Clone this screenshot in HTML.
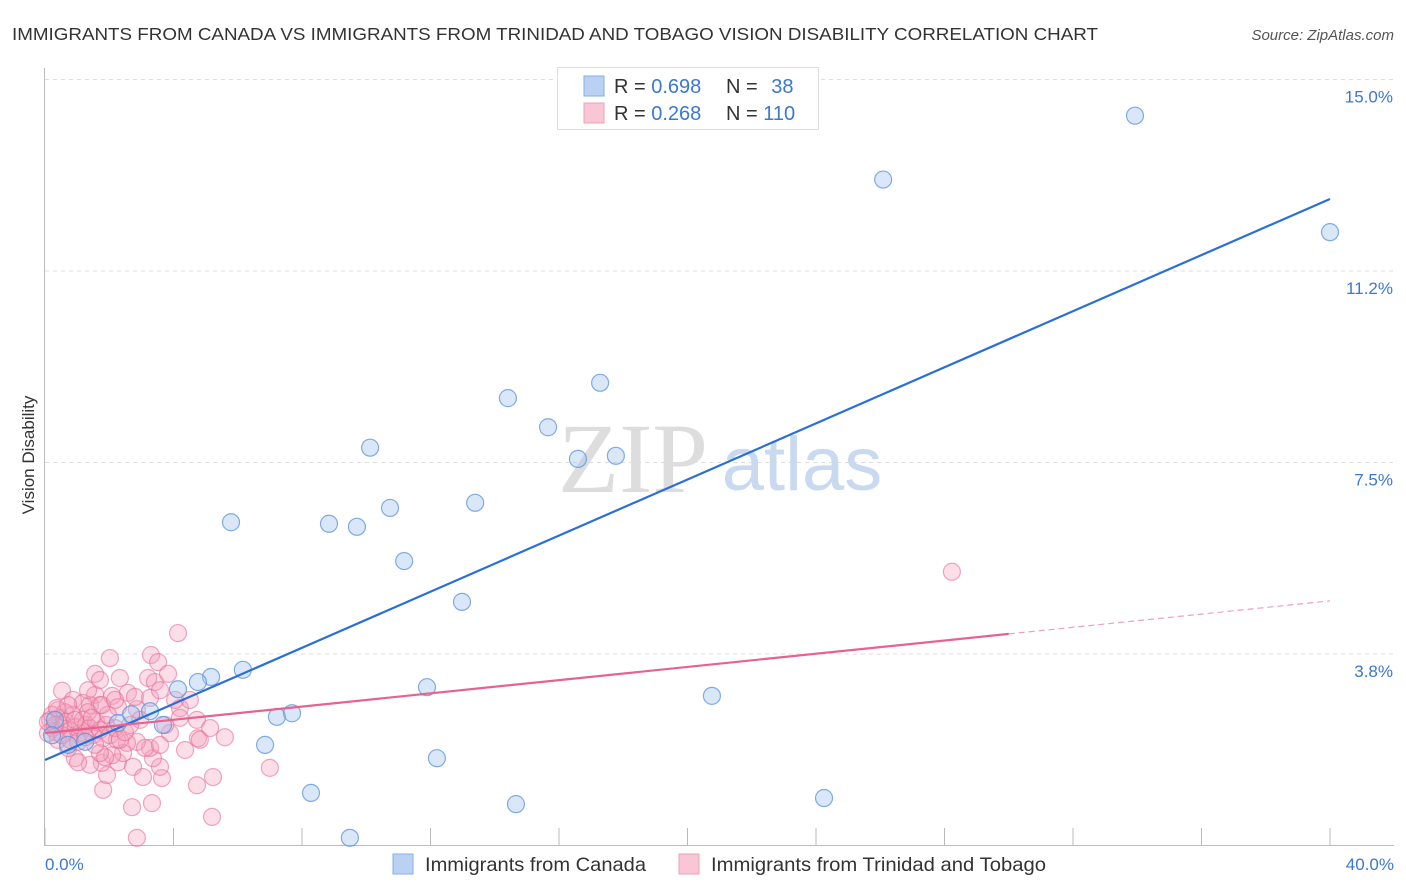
<!DOCTYPE html>
<html><head><meta charset="utf-8">
<style>
body{margin:0;background:#fff;font-family:"Liberation Sans",sans-serif;}
svg{display:block}
</style></head>
<body>
<svg id="chart" width="1406" height="892" xmlns="http://www.w3.org/2000/svg">
<text x="12" y="40" font-size="17.5" fill="#333" textLength="1086" lengthAdjust="spacingAndGlyphs">IMMIGRANTS FROM CANADA VS IMMIGRANTS FROM TRINIDAD AND TOBAGO VISION DISABILITY CORRELATION CHART</text>
<text x="1394" y="40" font-size="15" fill="#555" font-style="italic" text-anchor="end">Source: ZipAtlas.com</text>
<g id="grid"></g>
<g>
<text x="633" y="492" font-size="100" font-family="Liberation Serif,serif" fill="#ddd" text-anchor="middle">ZIP</text>
<text x="802" y="490" font-size="76" fill="#c9daf0" text-anchor="middle">atlas</text>
</g>
<text x="34" y="455" font-size="17" fill="#333" text-anchor="middle" transform="rotate(-90 34 455)">Vision Disability</text>
<g id="axes"></g>
<g id="pink"></g>
<g id="blue"></g>
<g id="lines"></g>
<g>
<rect x="557.5" y="67.5" width="261" height="62" fill="#fff" stroke="#ddd"/>
<rect x="584" y="76" width="20" height="20" fill="#b9d2f4" stroke="#86aee6"/>
<rect x="584" y="103" width="20" height="20" fill="#f8c6d5" stroke="#eea0b8"/>
<text x="614" y="93" font-size="20" fill="#333">R = <tspan fill="#3b78d0">0.698</tspan></text>
<text x="726" y="93" font-size="20" fill="#333">N = <tspan fill="#3b78d0" dx="8">38</tspan></text>
<text x="614" y="120" font-size="20" fill="#333">R = <tspan fill="#3b78d0">0.268</tspan></text>
<text x="726" y="120" font-size="20" fill="#333">N = <tspan fill="#3b78d0">110</tspan></text>
</g>
<g>
<rect x="393" y="854" width="20" height="20" fill="#b9d2f4" stroke="#86aee6"/>
<text x="425" y="871" font-size="19.5" fill="#333" textLength="221" lengthAdjust="spacingAndGlyphs">Immigrants from Canada</text>
<rect x="679" y="854" width="20" height="20" fill="#f8c6d5" stroke="#eea0b8"/>
<text x="711" y="871" font-size="19.5" fill="#333" textLength="335" lengthAdjust="spacingAndGlyphs">Immigrants from Trinidad and Tobago</text>
</g>
</svg>
<script>
const xTicks=[0,4,8,12,16,20,24,28,32,36,40];
const yTicks=[3.75,7.5,11.25,15];
const yTickLabels=["3.8%","7.5%","11.2%","15.0%"];
const xLabels=["0.0%","40.0%"];
const canadaX=[33.93,26.09,40.0,17.28,14.41,15.66,10.12,16.59,17.77,5.79,8.84,9.71,10.74,13.39,11.18,12.98,6.16,5.17,4.76,4.14,3.27,3.67,2.27,2.68,7.22,7.69,11.89,20.76,6.85,12.20,8.28,14.66,24.25,9.49,0.31,0.22,0.72,1.25];
const canadaY=[14.29,13.04,12.01,9.06,8.76,8.19,7.79,7.57,7.63,6.33,6.30,6.24,6.61,6.71,5.57,4.77,3.44,3.30,3.20,3.06,2.63,2.36,2.40,2.57,2.52,2.59,3.10,2.93,1.97,1.71,1.03,0.81,0.93,0.15,2.46,2.16,1.97,2.03];
const trinX=[4.14,2.02,3.30,3.52,1.56,3.83,3.21,3.42,0.53,2.09,2.58,1.56,0.87,1.18,1.40,1.71,2.27,2.86,4.20,4.73,5.60,4.76,7.00,4.36,5.23,4.73,5.20,3.33,2.71,2.86,1.81,1.93,1.77,1.40,0.93,0.72,2.27,2.74,3.05,3.64,3.58,3.36,3.27,2.86,2.55,2.43,2.09,1.87,1.71,2.24,3.89,0.40,28.23,0.16,0.25,0.34,0.47,0.56,0.65,0.78,0.87,0.96,1.09,1.18,1.28,1.40,1.49,1.59,1.71,1.81,1.90,0.40,0.62,0.09,0.22,0.78,1.34,1.03,1.56,2.02,2.18,2.33,2.49,1.96,0.53,0.31,0.93,1.25,1.46,2.96,3.11,3.58,2.65,3.74,4.05,1.77,0.09,0.37,0.72,2.18,2.80,3.27,1.34,1.71,2.33,3.58,4.20,4.51,4.82,5.14,1.03];
const trinY=[4.16,3.67,3.73,3.59,3.36,3.36,3.28,3.20,3.03,2.93,2.99,2.95,2.85,2.79,2.75,2.75,2.71,2.67,2.69,2.46,2.12,2.10,1.52,1.87,1.34,1.18,0.56,0.83,0.75,0.15,1.09,1.38,1.62,1.58,1.71,1.91,1.63,1.54,1.34,1.32,1.54,1.71,1.91,2.03,2.01,1.81,1.77,1.73,1.81,2.07,2.20,2.65,5.36,2.46,2.30,2.22,2.50,2.36,2.42,2.26,2.56,2.32,2.20,2.46,2.36,2.30,2.16,2.42,2.26,2.10,2.36,2.07,2.61,2.20,2.56,2.07,2.61,2.03,1.97,2.16,2.30,2.07,2.22,2.56,2.16,2.36,2.46,2.12,2.50,2.46,1.91,1.97,2.36,2.36,2.85,2.75,2.42,2.69,2.75,2.85,2.91,2.89,3.04,3.24,3.28,3.04,2.50,2.85,2.07,2.30,1.63];
const canadaTrend=[1.674,12.66];
const trinTrend=[2.203,4.79];
const trinSolidEnd=30;
const NS="http://www.w3.org/2000/svg";
const sx=v=>45+v*32.125;
const sy=v=>845.5-v*51.07;
function mk(tag,attrs,parent){const e=document.createElementNS(NS,tag);for(const k in attrs)e.setAttribute(k,attrs[k]);parent.appendChild(e);return e;}
const grid=document.getElementById('grid'),axes=document.getElementById('axes');
yTicks.forEach((t,i)=>{
  const l=mk('line',{x1:45,x2:1394,y1:sy(t),y2:sy(t),stroke:'#ddd','stroke-dasharray':'4,4'},grid);
  
  
  const tx=mk('text',{x:1393,y:sy(t)+23,'font-size':17,fill:'#3b78d0','text-anchor':'end'},axes);
  tx.textContent=yTickLabels[i];
  
  
});
mk('line',{x1:44.5,x2:44.5,y1:68,y2:846,stroke:'#bbb'},axes);
mk('line',{x1:45,x2:1394,y1:845.5,y2:845.5,stroke:'#bbb'},axes);
xTicks.forEach(t=>{
  const l=mk('line',{x1:sx(t),x2:sx(t),y1:828,y2:846,stroke:'#bbb'},axes);
  
  
});
const xl0=mk('text',{x:45,y:870,'font-size':17,fill:'#3b78d0'},axes);xl0.textContent=xLabels[0];


const xl1=mk('text',{x:1394,y:870,'font-size':17,fill:'#3b78d0','text-anchor':'end'},axes);xl1.textContent=xLabels[1];


const pink=document.getElementById('pink'),blue=document.getElementById('blue');
trinX.forEach((v,i)=>{
  const c=mk('circle',{cx:sx(v),cy:sy(trinY[i]),r:8.5,fill:'rgba(244,160,188,0.35)',stroke:'rgba(232,110,150,0.6)','stroke-width':1.2},pink);
  
  
});
canadaX.forEach((v,i)=>{
  const c=mk('circle',{cx:sx(v),cy:sy(canadaY[i]),r:8.5,fill:'rgba(160,195,240,0.4)',stroke:'rgba(90,145,220,0.75)','stroke-width':1.2},blue);
  
  
});
const lines=document.getElementById('lines');
const ty=x=>trinTrend[0]+(trinTrend[1]-trinTrend[0])*x/40;
const bl=mk('line',{x1:sx(0),y1:sy(canadaTrend[0]),x2:sx(40),y2:sy(canadaTrend[1]),stroke:'#2a6fd6','stroke-width':2.2},lines);


const pl=mk('line',{x1:sx(0),y1:sy(ty(0)),x2:sx(trinSolidEnd),y2:sy(ty(trinSolidEnd)),stroke:'#e8628f','stroke-width':2.2},lines);


const pd=mk('line',{x1:sx(trinSolidEnd),y1:sy(ty(trinSolidEnd)),x2:sx(40),y2:sy(ty(40)),stroke:'#eea0b8','stroke-width':1.2,'stroke-dasharray':'6,4'},lines);


</script>
</body></html>
